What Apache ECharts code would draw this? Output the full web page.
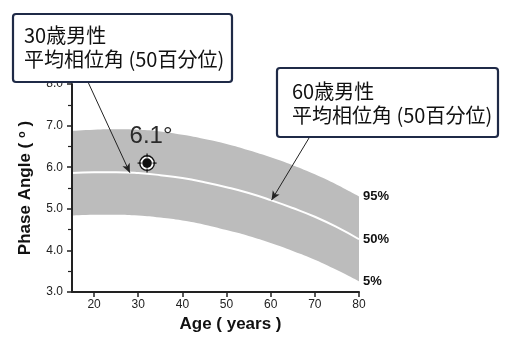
<!DOCTYPE html>
<html>
<head>
<meta charset="utf-8">
<script src="https://cdn.jsdelivr.net/npm/echarts@6/dist/echarts.min.js"></script>
<style>
  html, body { margin: 0; padding: 0; background: #fff; }
  #chart { width: 517px; height: 338px; }
</style>
</head>
<body>
<div id="chart"></div>
<script>
// Phase angle reference percentiles by age (men)
const ages     = [15, 20, 25, 30, 35, 40, 45, 50, 55, 60, 65, 70, 75, 80];
const p95      = [6.87, 6.90, 6.91, 6.90, 6.86, 6.78, 6.68, 6.56, 6.41, 6.24, 6.05, 5.83, 5.58, 5.30];
const p50      = [5.86, 5.88, 5.88, 5.86, 5.81, 5.74, 5.64, 5.52, 5.38, 5.21, 5.02, 4.81, 4.56, 4.27];
const p5       = [4.84, 4.86, 4.86, 4.84, 4.79, 4.72, 4.62, 4.49, 4.35, 4.18, 3.99, 3.78, 3.53, 3.26];
const subject  = [32, 6.1];              // measured individual: age, phase angle
const xTicks   = [20, 30, 40, 50, 60, 70, 80];
const arrow30  = [28.1, 5.87];           // point on the median at age 30 callout
const arrow60  = [60.2, 5.21];           // point on the median at age 60 callout

const pairs = arr => ages.map((a, i) => [a, arr[i]]);

const axisColor = '#222';
const labelFont = 'Liberation Sans, Arial, sans-serif';
const cjkFont = '"Noto Sans CJK JP", "Noto Sans", sans-serif';

const endLabel = {
  show: true, formatter: '{a}', distance: 4,
  fontFamily: labelFont, fontWeight: 'bold', fontSize: 13, color: '#111'
};

const chart = echarts.init(document.getElementById('chart'), null, { renderer: 'canvas' });

chart.setOption({
  animation: false,
  grid: { left: 72, right: 158, top: 84, bottom: 45 },
  xAxis: {
    type: 'value',
    min: 15,
    max: 80,
    z: 10,
    name: 'Age ( years )',
    nameLocation: 'middle',
    nameGap: 21,
    nameTextStyle: {
      fontFamily: labelFont, fontWeight: 'bold', fontSize: 17, color: '#111',
      padding: [0, 0, 0, 30], verticalAlign: 'top'
    },
    axisLine: { lineStyle: { color: axisColor, width: 2 } },
    axisTick: { show: true, length: 5, customValues: xTicks, lineStyle: { color: axisColor, width: 1.5 } },
    axisLabel: { customValues: xTicks, margin: 7, fontFamily: labelFont, fontSize: 12, color: '#222' },
    splitLine: { show: false }
  },
  yAxis: {
    type: 'value',
    min: 3,
    max: 8,
    interval: 1,
    z: 10,
    name: 'Phase Angle ( {sup|o} )',
    nameLocation: 'middle',
    nameGap: 37,
    nameRotate: 90,
    nameTextStyle: {
      fontFamily: labelFont, fontWeight: 'bold', fontSize: 17, color: '#111',
      rich: {
        sup: { fontFamily: labelFont, fontSize: 11, color: '#111', verticalAlign: 'top', padding: [0, 0, 8, 0] }
      }
    },
    axisLine: { show: true, lineStyle: { color: axisColor, width: 2 } },
    axisTick: { show: true, length: 5, lineStyle: { color: axisColor, width: 1.5 } },
    minorTick: { show: true, splitNumber: 2, length: 4, lineStyle: { color: axisColor, width: 1.2 } },
    axisLabel: {
      margin: 9, fontFamily: labelFont, fontSize: 12, color: '#222',
      formatter: v => v.toFixed(1)
    },
    splitLine: { show: false }
  },
  series: [
    {
      // 95th percentile: grey fill down to the axis
      name: '95%',
      type: 'line',
      smooth: true,
      symbol: 'none',
      data: pairs(p95),
      lineStyle: { width: 0, opacity: 0 },
      areaStyle: { color: '#bcbcbc', opacity: 1, origin: 'start' },
      endLabel: endLabel,
      z: 2
    },
    {
      // 5th percentile: white fill below clears the band's lower side
      name: '5%',
      type: 'line',
      smooth: true,
      symbol: 'none',
      data: pairs(p5),
      lineStyle: { width: 0, opacity: 0 },
      areaStyle: { color: '#ffffff', opacity: 1, origin: 'start' },
      endLabel: endLabel,
      z: 3
    },
    {
      name: '50%',
      type: 'line',
      smooth: true,
      symbol: 'none',
      data: pairs(p50),
      lineStyle: { color: '#ffffff', width: 2 },
      endLabel: endLabel,
      markLine: {
        silent: true,
        symbol: ['none', 'arrow'],
        symbolSize: [6, 9],
        label: { show: false },
        lineStyle: { color: '#222', width: 1, type: 'solid' },
        data: [
          [{ x: 88, y: 82 }, { coord: arrow30 }],
          [{ x: 309, y: 138 }, { coord: arrow60 }]
        ]
      },
      z: 4
    },
    {
      // target marker for the measured value, with its value written above
      type: 'custom',
      data: [subject],
      renderItem: (params, api) => {
        const val = api.value(1);
        const p = api.coord([api.value(0), val]);
        const cx = p[0], cy = p[1];
        const tick = (x1, y1, x2, y2) => ({
          type: 'line',
          shape: { x1: cx + x1, y1: cy + y1, x2: cx + x2, y2: cy + y2 },
          style: { stroke: '#111', lineWidth: 1.2 }
        });
        return {
          type: 'group',
          children: [
            { type: 'circle', shape: { cx, cy, r: 7.3 }, style: { fill: '#fff', stroke: '#111', lineWidth: 1.4 } },
            tick(-9.5, 0, -5.5, 0), tick(5.5, 0, 9.5, 0),
            tick(0, -9.5, 0, -5.5), tick(0, 5.5, 0, 9.5),
            { type: 'circle', shape: { cx, cy, r: 4.8 }, style: { fill: '#111' } },
            {
              type: 'text',
              x: cx + 4, y: cy - 27,
              style: {
                text: val.toFixed(1) + '°',
                font: '24px ' + labelFont,
                fill: '#2a2a2a',
                align: 'center',
                verticalAlign: 'middle'
              }
            }
          ]
        };
      },
      z: 5
    }
  ],
  graphic: [
    {
      type: 'rect', z: 100,
      shape: { x: 13, y: 14, width: 219, height: 68, r: 3 },
      style: { fill: '#fff', stroke: '#1f2a47', lineWidth: 2.2 }
    },
    {
      type: 'text', z: 101, x: 24, y: 23,
      style: {
        text: '30歳男性\n平均相位角 (50百分位)',
        font: '20px ' + cjkFont, lineHeight: 24, fill: '#111'
      }
    },
    {
      type: 'rect', z: 100,
      shape: { x: 277, y: 68, width: 221, height: 69, r: 3 },
      style: { fill: '#fff', stroke: '#1f2a47', lineWidth: 2.2 }
    },
    {
      type: 'text', z: 101, x: 292, y: 79,
      style: {
        text: '60歳男性\n平均相位角 (50百分位)',
        font: '20px ' + cjkFont, lineHeight: 24, fill: '#111'
      }
    }
  ]
});
</script>
</body>
</html>
